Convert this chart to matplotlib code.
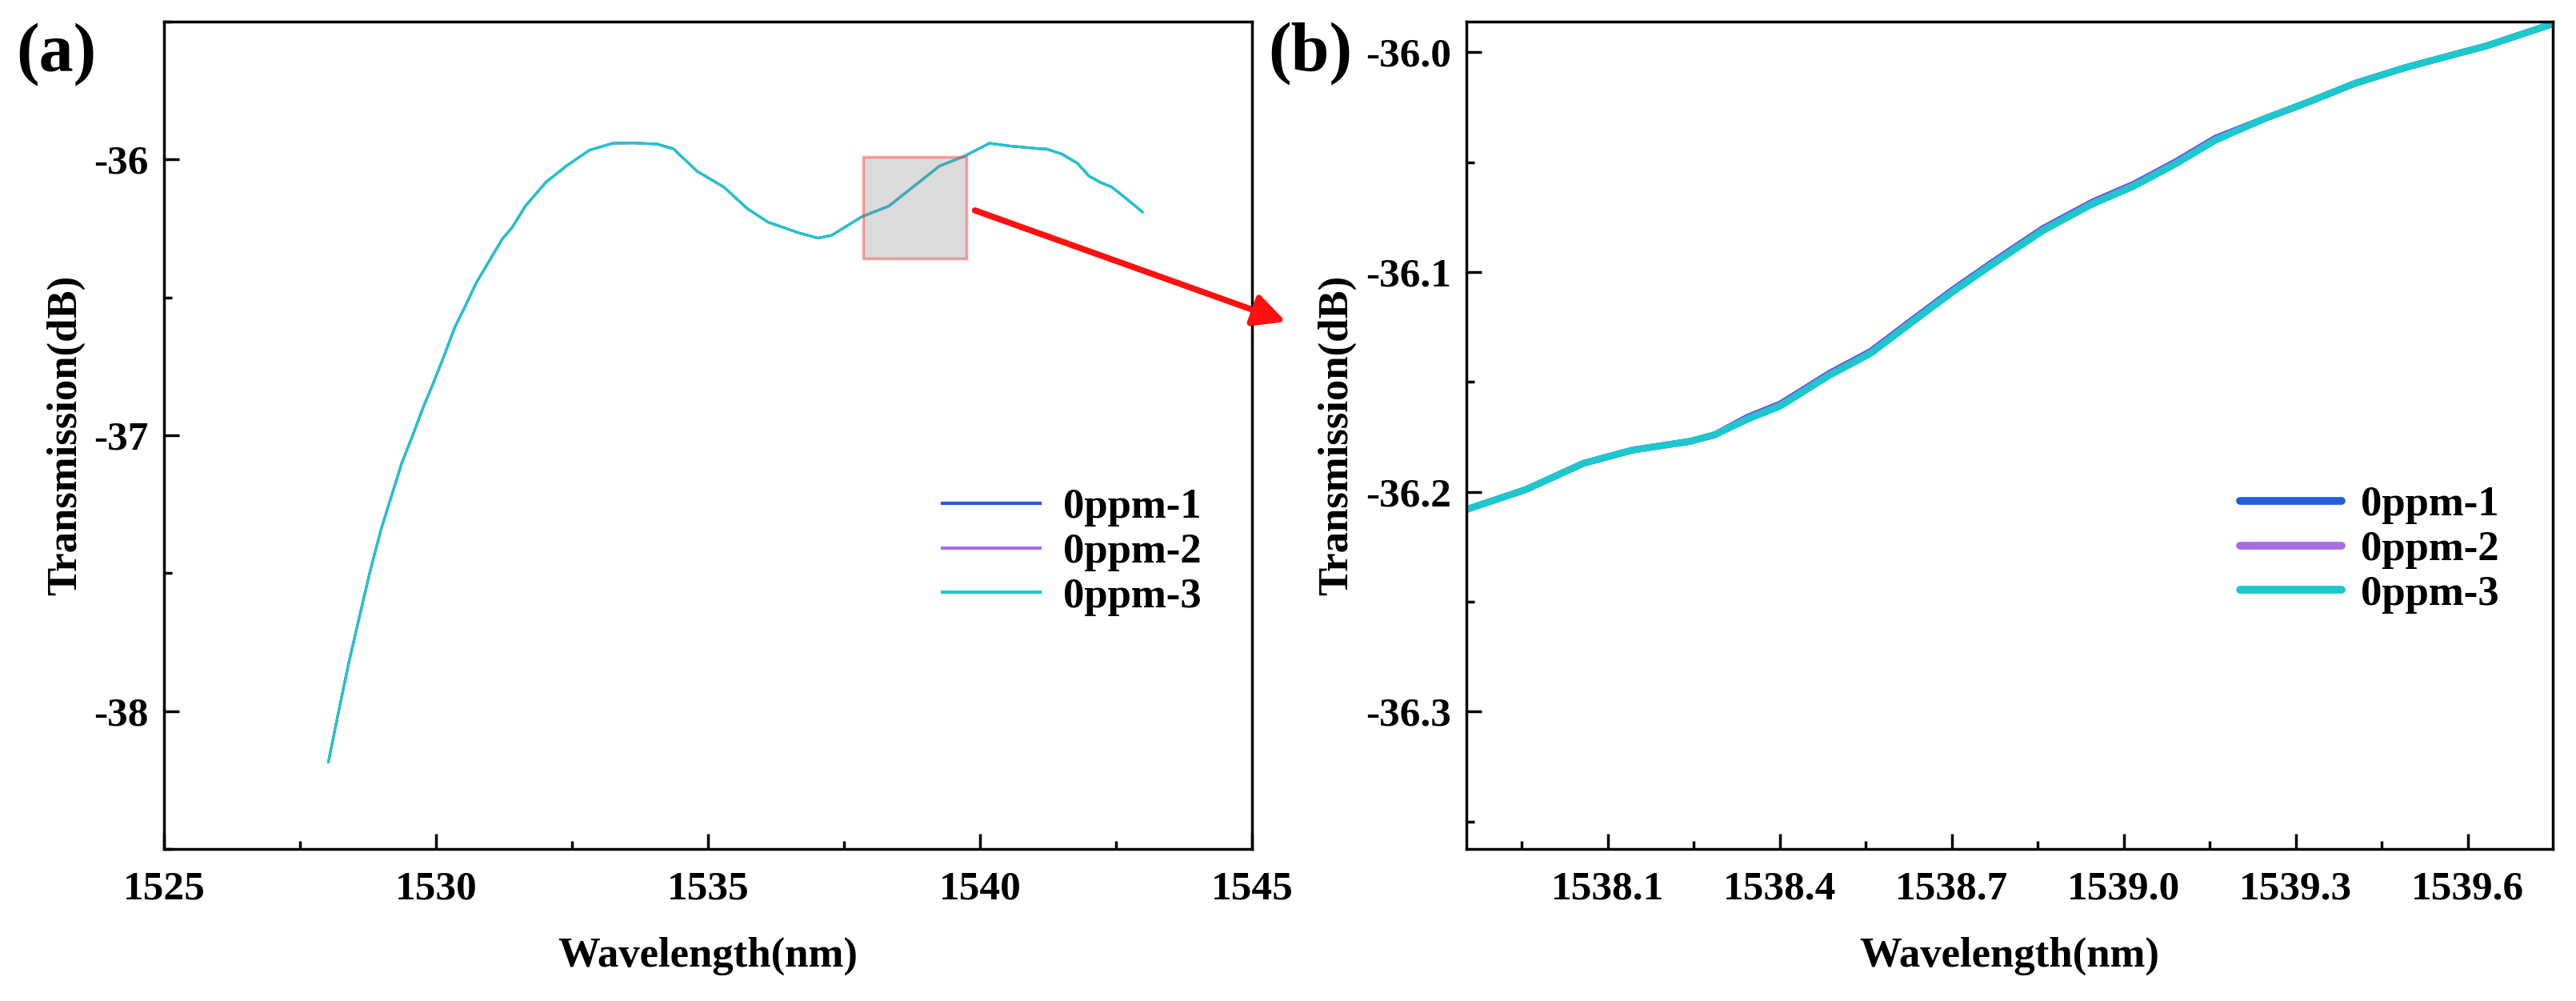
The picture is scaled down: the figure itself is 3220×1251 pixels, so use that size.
import matplotlib
matplotlib.use("Agg")
import matplotlib.pyplot as plt
from matplotlib.patches import Rectangle, FancyArrowPatch
from matplotlib.ticker import MultipleLocator, FormatStrFormatter

plt.rcParams['font.family'] = ['Liberation Serif', 'DejaVu Serif']
plt.rcParams['font.weight'] = 'bold'
plt.rcParams['axes.unicode_minus'] = False

# (a) full spectrum, the three repeats overlap
wl_a = [1528.02, 1528.21, 1528.40, 1528.60, 1528.79, 1528.99, 1529.18, 1529.37,
        1529.57, 1529.76, 1529.95, 1530.15, 1530.34, 1530.54, 1530.73, 1530.97,
        1531.21, 1531.40, 1531.64, 1532.02, 1532.39, 1532.82, 1533.25, 1533.62,
        1534.06, 1534.36, 1534.80, 1535.29, 1535.72, 1536.10, 1536.65, 1537.02,
        1537.27, 1537.83, 1538.32, 1538.82, 1539.25, 1539.74, 1540.17, 1540.55,
        1541.09, 1541.22, 1541.50, 1541.79, 1542.00, 1542.21, 1542.42, 1542.70,
        1542.98]
t_a = [-38.185, -38.00, -37.82, -37.65, -37.49, -37.34, -37.22, -37.10,
       -37.00, -36.90, -36.81, -36.71, -36.61, -36.53, -36.45, -36.37,
       -36.29, -36.246, -36.169, -36.082, -36.024, -35.966, -35.941, -35.940,
       -35.944, -35.961, -36.043, -36.10, -36.178, -36.227, -36.265, -36.285,
       -36.275, -36.207, -36.169, -36.091, -36.024, -35.985, -35.941, -35.951,
       -35.961, -35.962, -35.98, -36.014, -36.06, -36.083, -36.10, -36.144,
       -36.19]

# (b) zoomed region
wl_b = [1537.854, 1537.957, 1538.058, 1538.143, 1538.244, 1538.287, 1538.344,
        1538.401, 1538.487, 1538.559, 1538.630, 1538.702, 1538.774, 1538.860,
        1538.946, 1539.017, 1539.089, 1539.160, 1539.247, 1539.318, 1539.404,
        1539.490, 1539.561, 1539.633, 1539.748]
t1_b = [-36.208, -36.199, -36.187, -36.181, -36.177, -36.174, -36.166,
        -36.160, -36.146, -36.136, -36.122, -36.108, -36.095, -36.080,
        -36.068, -36.060, -36.050, -36.039, -36.030, -36.023, -36.014,
        -36.007, -36.002, -35.997, -35.987]
t2_b = [-36.208, -36.199, -36.187, -36.181, -36.177, -36.174, -36.1665,
        -36.1605, -36.1465, -36.1365, -36.1225, -36.1085, -36.0955, -36.0805,
        -36.0685, -36.0605, -36.0505, -36.0395, -36.030, -36.023, -36.014,
        -36.007, -36.002, -35.997, -35.987]
t3_b = [-36.208, -36.199, -36.187, -36.181, -36.177, -36.174, -36.167,
        -36.161, -36.147, -36.137, -36.123, -36.109, -36.096, -36.081,
        -36.069, -36.061, -36.051, -36.040, -36.030, -36.023, -36.014,
        -36.007, -36.002, -35.997, -35.987]

labels = ['0ppm-1', '0ppm-2', '0ppm-3']
colors = ['#1f5fd8', '#a86ee0', '#19c9cc']

fig = plt.figure(figsize=(32.2, 12.51), dpi=100)
ax1 = fig.add_axes([0.0637, 0.1519, 0.4224, 0.8265])
ax2 = fig.add_axes([0.5693, 0.1519, 0.4217, 0.8265])

for c, lab in zip(colors, labels):
    ax1.plot(wl_a, t_a, color=c, lw=2.2, label=lab)

for ys, c, lab in zip([t1_b, t2_b, t3_b], colors, labels):
    ax2.plot(wl_b, ys, color=c, lw=6, label=lab, solid_capstyle='round')

# zoom box
ax1.add_patch(Rectangle((1537.85, -36.36), 1.9, 0.37, facecolor=(0.5, 0.5, 0.5, 0.28),
                        edgecolor=(1, 0.2, 0.2, 0.45), lw=2.5, zorder=3))

ax1.set_xlim(1525, 1545)
ax1.set_ylim(-38.5, -35.5)
ax1.xaxis.set_major_locator(MultipleLocator(5))
ax1.xaxis.set_minor_locator(MultipleLocator(2.5))
ax1.yaxis.set_major_locator(MultipleLocator(1))
ax1.yaxis.set_minor_locator(MultipleLocator(0.5))
ax1.yaxis.set_major_formatter(FormatStrFormatter('%d'))

ax2.set_xlim(1537.854, 1539.748)
ax2.set_ylim(-36.3625, -35.986)
ax2.set_xticks([1538.1, 1538.4, 1538.7, 1539.0, 1539.3, 1539.6])
ax2.set_xticks([1537.95, 1538.25, 1538.55, 1538.85, 1539.15, 1539.45], minor=True)
ax2.xaxis.set_major_formatter(FormatStrFormatter('%.1f'))
ax2.yaxis.set_major_locator(MultipleLocator(0.1))
ax2.yaxis.set_minor_locator(MultipleLocator(0.05))
ax2.yaxis.set_major_formatter(FormatStrFormatter('%.1f'))

for ax in (ax1, ax2):
    for s in ax.spines.values():
        s.set_linewidth(2.5)
    ax.tick_params(which='both', direction='in', top=False, right=False, width=2.5)
    ax.tick_params(which='major', length=14, labelsize=37)
    ax.tick_params(axis='x', which='major', pad=20)
    ax.tick_params(axis='y', which='major', pad=14)
    ax.tick_params(which='minor', length=7)
    ax.set_xlabel('Wavelength(nm)', fontsize=38, fontweight='bold', labelpad=26)
    ax.set_ylabel('Transmission(dB)', fontsize=38, fontweight='bold', labelpad=8)

leg1 = ax1.legend(loc='center left', bbox_to_anchor=(0.7154, 0.3588), frameon=False,
                  fontsize=38, handlelength=2.3, handletextpad=0.55, labelspacing=0.15,
                  borderpad=0, borderaxespad=0)
leg2 = ax2.legend(loc='center left', bbox_to_anchor=(0.7121, 0.3617), frameon=False,
                  fontsize=38, handlelength=2.4, handletextpad=0.45, labelspacing=0.15,
                  borderpad=0, borderaxespad=0)
for ln in leg1.get_lines():
    ln.set_linewidth(3)
for ln in leg2.get_lines():
    ln.set_linewidth(7)

fig.text(20 / 3220, 1 - 68 / 1251, '(a)', fontsize=62, fontweight='bold', va='center', ha='left')
fig.text(1585 / 3220, 1 - 67 / 1251, '(b)', fontsize=62, fontweight='bold', va='center', ha='left')

arrow = FancyArrowPatch((1216 / 3220, 1 - 262 / 1251), (1610 / 3220, 1 - 403 / 1251),
                        transform=fig.transFigure, arrowstyle='-|>', color='#ff1010',
                        lw=5.5, mutation_scale=60)
fig.add_artist(arrow)

fig.savefig('out.png', dpi=100)
